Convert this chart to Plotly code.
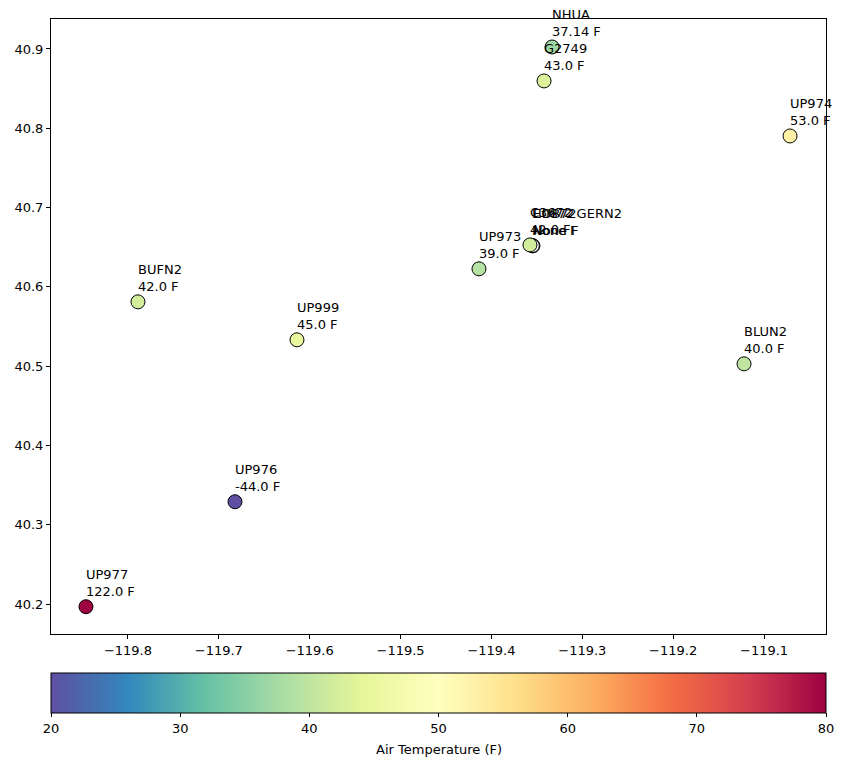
import plotly.graph_objects as go

stations = ["UP977", "UP976", "BUFN2", "UP999", "UP973", "E0872", "C3672", "HD872GERN2",
            "BLUN2", "UP974", "G2749", "NHUA"]
lons = [-119.8462, -119.6822, -119.7890, -119.6140, -119.4137, -119.3543, -119.3576, -119.3550,
        -119.1220, -119.0714, -119.3421, -119.3333]
lats = [40.1966, 40.3290, 40.5811, 40.5332, 40.6227, 40.6517, 40.6529, 40.6520,
        40.5029, 40.7903, 40.8597, 40.9025]
temps = [122.0, -44.0, 42.0, 45.0, 39.0, None, 42.0, None,
         40.0, 53.0, 43.0, 37.14]

xticks = [-119.8, -119.7, -119.6, -119.5, -119.4, -119.3, -119.2, -119.1]
yticks = [40.2, 40.3, 40.4, 40.5, 40.6, 40.7, 40.8, 40.9]
cticks = [20, 30, 40, 50, 60, 70, 80]

FONT = "DejaVu Sans"

fig = go.Figure()

nan_x = [x for x, t in zip(lons, temps) if t is None]
nan_y = [y for y, t in zip(lats, temps) if t is None]
fig.add_trace(go.Scatter(
    x=nan_x, y=nan_y, mode="markers",
    marker=dict(size=14, color="rgba(0,0,0,0)", line=dict(color="black", width=1)),
    showlegend=False, hoverinfo="skip"))

val_x = [x for x, t in zip(lons, temps) if t is not None]
val_y = [y for y, t in zip(lats, temps) if t is not None]
val_t = [t for t in temps if t is not None]
fig.add_trace(go.Scatter(
    x=val_x, y=val_y, mode="markers",
    marker=dict(size=14, color=val_t, cmin=20, cmax=80, colorscale="Spectral_r",
                line=dict(color="black", width=1), showscale=True,
                colorbar=dict(orientation="h", x=0.5, xanchor="center",
                              y=-0.063, yanchor="top", len=1, lenmode="fraction",
                              thickness=40, xpad=0, ypad=0,
                              outlinewidth=1, outlinecolor="black",
                              tickvals=cticks, ticks="outside", ticklen=4,
                              tickcolor="black",
                              tickfont=dict(family=FONT, size=13, color="black"))),
    showlegend=False))

fig.add_annotation(x=0.5, y=-0.187, xref="paper", yref="paper", showarrow=False,
                   text="Air Temperature (F)", xanchor="center", yanchor="middle",
                   font=dict(family=FONT, size=13, color="black"))

for s, x, y, t in zip(stations, lons, lats, temps):
    val = "None" if t is None else f"{t}"
    fig.add_annotation(x=x, y=y, text=f"{s}<br>{val} F", showarrow=False,
                       xanchor="left", yanchor="bottom", align="left",
                       yshift=6, xshift=-2,
                       font=dict(family=FONT, size=13, color="black"))

axis_common = dict(showgrid=False, zeroline=False, showline=True, linecolor="black",
                   linewidth=1, mirror=True, ticks="outside", ticklen=4, tickcolor="black",
                   tickfont=dict(family=FONT, size=13, color="black"))

fig.update_xaxes(range=[-119.8847, -119.0318], tickvals=xticks,
                 ticktext=[f"\u2212{abs(v):.1f}" for v in xticks], **axis_common)
fig.update_yaxes(range=[40.1622, 40.9378], tickvals=yticks,
                 ticktext=[f"{v:.1f}" for v in yticks], **axis_common)

fig.update_layout(width=845, height=766, margin=dict(l=51, r=19, t=19, b=132),
                  plot_bgcolor="white", paper_bgcolor="white",
                  font=dict(family=FONT, size=13, color="black"))

fig.write_html("out.html")
